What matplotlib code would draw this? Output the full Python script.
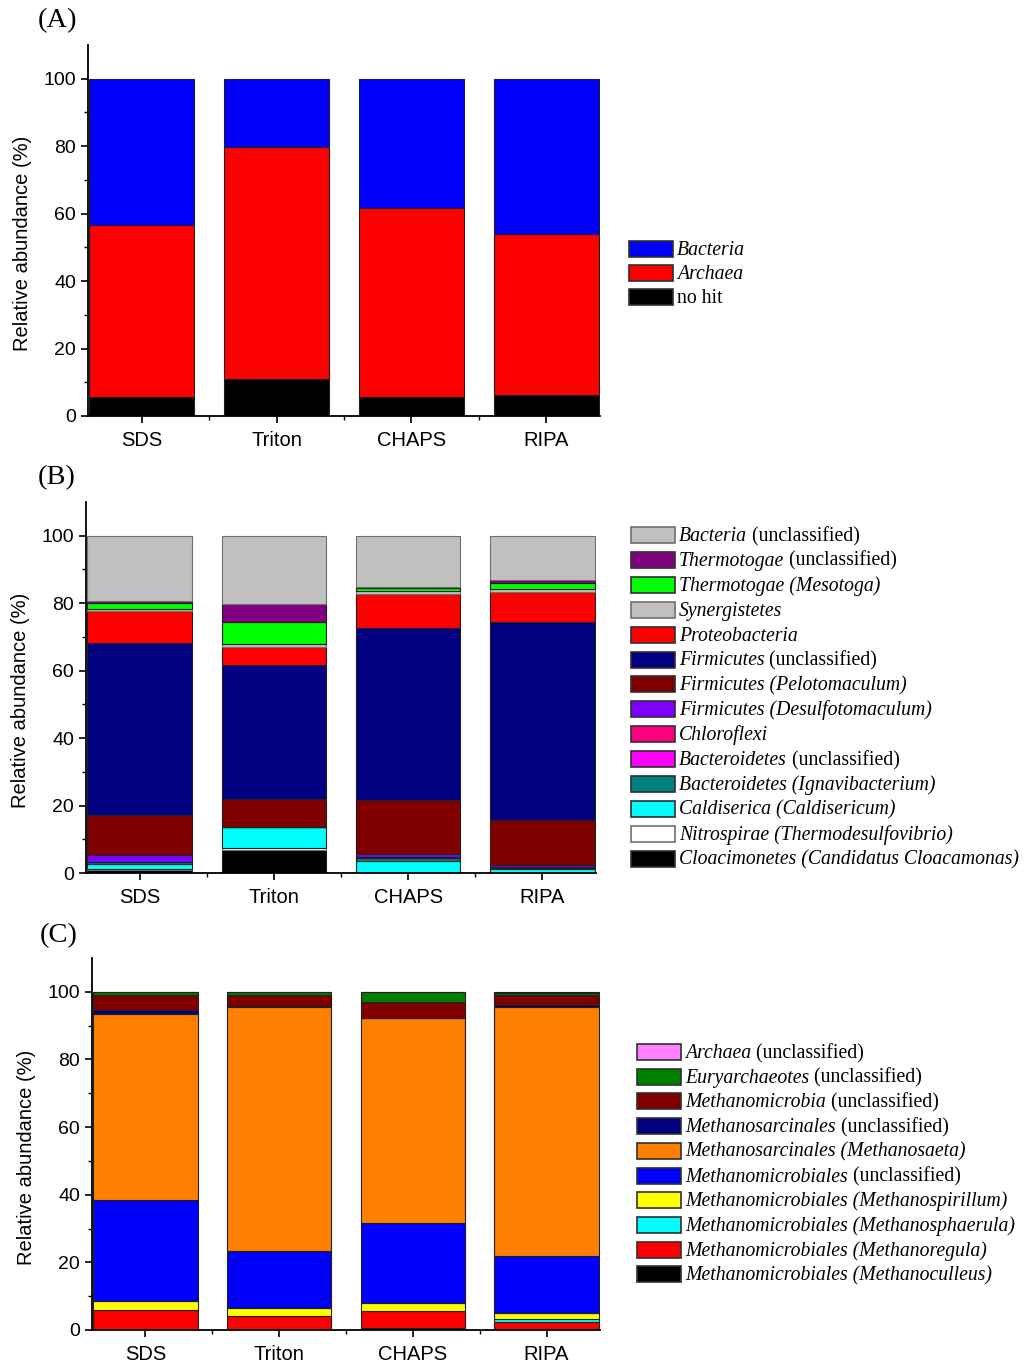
import matplotlib
matplotlib.use('Agg')
import matplotlib.pyplot as plt
from matplotlib.patches import Rectangle
from matplotlib.ticker import FixedLocator
import numpy as np

plt.rcParams['font.family'] = ['Liberation Sans', 'DejaVu Sans']

muestras = ['SDS', 'Triton', 'CHAPS', 'RIPA']

# (A) dominios: de abajo hacia arriba; nombre = (parte cursiva, parte normal)
dom_nombres = [('', 'no hit'), ('Archaea', ''), ('Bacteria', '')]
dom_colores = ['#000000', '#ff0000', '#0000ff']
no_hit = [5.7, 10.9, 5.5, 6.2]
archaea = [50.8, 68.9, 56.1, 47.7]
bacteria = [43.5, 20.2, 38.4, 46.1]

# (B) bacterias: de abajo hacia arriba
bac_nombres = [
    ('Cloacimonetes (Candidatus Cloacamonas)', ''),
    ('Nitrospirae (Thermodesulfovibrio)', ''),
    ('Caldiserica (Caldisericum)', ''),
    ('Bacteroidetes (Ignavibacterium)', ''),
    ('Bacteroidetes', ' (unclassified)'),
    ('Chloroflexi', ''),
    ('Firmicutes (Desulfotomaculum)', ''),
    ('Firmicutes (Pelotomaculum)', ''),
    ('Firmicutes', ' (unclassified)'),
    ('Proteobacteria', ''),
    ('Synergistetes', ''),
    ('Thermotogae (Mesotoga)', ''),
    ('Thermotogae', ' (unclassified)'),
    ('Bacteria', ' (unclassified)'),
]
bac_colores = ['#000000', '#ffffff', '#00ffff', '#008080', '#ff00ff', '#ff0080',
               '#8000ff', '#800000', '#000080', '#ff0000', '#c0c0c0', '#00ff00',
               '#800080', '#c0c0c0']
cloacimonetes = [1.0, 6.8, 0.0, 0.0]
nitrospirae = [0.1, 0.5, 0.0, 0.1]
caldiserica = [1.7, 6.2, 3.7, 1.0]
ignavibacterium = [0.4, 0.0, 0.7, 0.5]
bacteroidetes_nc = [0.1, 0.0, 0.3, 0.2]
chloroflexi = [0.1, 0.0, 0.0, 0.1]
desulfotomaculum = [1.8, 0.0, 1.0, 0.6]
pelotomaculum = [12.1, 8.4, 15.9, 13.3]
firmicutes_nc = [50.9, 39.9, 51.0, 58.7]
proteobacteria = [9.5, 5.2, 10.1, 8.9]
synergistetes = [0.7, 1.0, 0.9, 0.7]
mesotoga = [1.8, 6.5, 1.0, 2.0]
thermotogae_nc = [0.3, 5.4, 0.2, 0.8]
bacteria_nc = [19.5, 20.1, 15.2, 13.1]

# (C) arqueas: de abajo hacia arriba
arq_nombres = [
    ('Methanomicrobiales (Methanoculleus)', ''),
    ('Methanomicrobiales (Methanoregula)', ''),
    ('Methanomicrobiales (Methanosphaerula)', ''),
    ('Methanomicrobiales (Methanospirillum)', ''),
    ('Methanomicrobiales', ' (unclassified)'),
    ('Methanosarcinales (Methanosaeta)', ''),
    ('Methanosarcinales', ' (unclassified)'),
    ('Methanomicrobia', ' (unclassified)'),
    ('Euryarchaeotes', ' (unclassified)'),
    ('Archaea', ' (unclassified)'),
]
arq_colores = ['#000000', '#ff0000', '#00ffff', '#ffff00', '#0000ff', '#ff8000',
               '#000080', '#800000', '#008000', '#ff80ff']
methanoculleus = [0.1, 0.1, 0.5, 0.2]
methanoregula = [5.8, 4.1, 5.2, 2.3]
methanosphaerula = [0.0, 0.0, 0.0, 0.8]
methanospirillum = [2.8, 2.4, 2.4, 1.6]
methanomicrobiales_nc = [29.6, 16.9, 23.6, 16.9]
methanosaeta = [55.0, 72.1, 60.5, 73.7]
methanosarcinales_nc = [1.2, 0.1, 0.0, 0.5]
methanomicrobia_nc = [4.5, 3.4, 4.8, 3.0]
euryarchaeotes_nc = [1.0, 0.9, 3.0, 0.7]
archaea_nc = [0.0, 0.0, 0.0, 0.3]

paneles = [
    ('(A)', [no_hit, archaea, bacteria], dom_nombres, dom_colores),
    ('(B)', [cloacimonetes, nitrospirae, caldiserica, ignavibacterium, bacteroidetes_nc,
             chloroflexi, desulfotomaculum, pelotomaculum, firmicutes_nc, proteobacteria,
             synergistetes, mesotoga, thermotogae_nc, bacteria_nc], bac_nombres, bac_colores),
    ('(C)', [methanoculleus, methanoregula, methanosphaerula, methanospirillum,
             methanomicrobiales_nc, methanosaeta, methanosarcinales_nc, methanomicrobia_nc,
             euryarchaeotes_nc, archaea_nc], arq_nombres, arq_colores),
]

W, H = 1024, 1367
fig = plt.figure(figsize=(W / 100, H / 100), dpi=100)
renderer = fig.canvas.get_renderer()

# posiciones en pixeles: ejes (izq, arriba, der, abajo), leyenda (x, y 1a fila, paso), etiqueta
ejes_px = [(88, 45, 600, 416), (86, 502, 596, 873), (92, 958, 600, 1330)]
leyenda_px = [(629, 249, 24.0), (631, 535, 24.9), (637, 1052, 24.7)]
etiqueta_px = [(38, 21), (38, 478), (40, 936)]

x = np.arange(1, 5)
for (etq, series, nombres, colores), (l, t, r, b), (lx, ly, dy), (ex, ey) in zip(
        paneles, ejes_px, leyenda_px, etiqueta_px):
    ax = fig.add_axes([l / W, 1 - b / H, (r - l) / W, (b - t) / H])
    base = np.zeros(4)
    for vals, col in zip(series, colores):
        edge = '#707070' if col in ('#c0c0c0', '#ffffff') else '#202020'
        ax.bar(x, vals, width=0.78, bottom=base, color=col,
               edgecolor=edge, linewidth=0.8)
        base = base + np.array(vals)

    ax.set_xlim(0.6, 4.4)
    ax.set_ylim(0, 110)
    ax.set_xticks(x)
    ax.set_xticklabels(muestras, fontsize=14.5)
    ax.xaxis.set_minor_locator(FixedLocator([1.5, 2.5, 3.5]))
    ax.set_yticks([0, 20, 40, 60, 80, 100])
    ax.yaxis.set_minor_locator(FixedLocator([10, 30, 50, 70, 90]))
    ax.tick_params(axis='both', which='major', labelsize=14, length=5, width=1.2)
    ax.tick_params(axis='both', which='minor', length=3, width=1.0)
    ax.tick_params(axis='x', labelsize=14.5, pad=6)
    for s in ['top', 'right']:
        ax.spines[s].set_visible(False)
    for s in ['left', 'bottom']:
        ax.spines[s].set_linewidth(1.3)
    ax.set_ylabel('Relative abundance (%)', fontsize=14.5)
    ax.yaxis.set_label_coords(-56 / (r - l), 0.465)

    # leyenda dibujada a mano (cursiva + texto normal), de arriba hacia abajo
    for i, ((ital, reg), col) in enumerate(zip(nombres[::-1], colores[::-1])):
        yc = ly + i * dy
        edge = '#707070' if col in ('#c0c0c0', '#ffffff') else '#303030'
        fig.add_artist(Rectangle((lx / W, 1 - (yc + 8) / H), 44 / W, 16 / H,
                                 transform=fig.transFigure, facecolor=col,
                                 edgecolor=edge, linewidth=1.2))
        xt = lx + 48
        yb = 1 - (yc + 6) / H
        if ital:
            txt = fig.text(xt / W, yb, ital, family='Liberation Serif', style='italic',
                           fontsize=14.2, ha='left', va='baseline')
            xt = txt.get_window_extent(renderer).x1
        if reg:
            fig.text(xt / W, yb, reg, family='Liberation Serif',
                     fontsize=14.2, ha='left', va='baseline')

    fig.text(ex / W, 1 - ey / H, etq, family='Liberation Serif', fontsize=20.5,
             ha='left', va='center')

fig.savefig('out.png', dpi=100)
